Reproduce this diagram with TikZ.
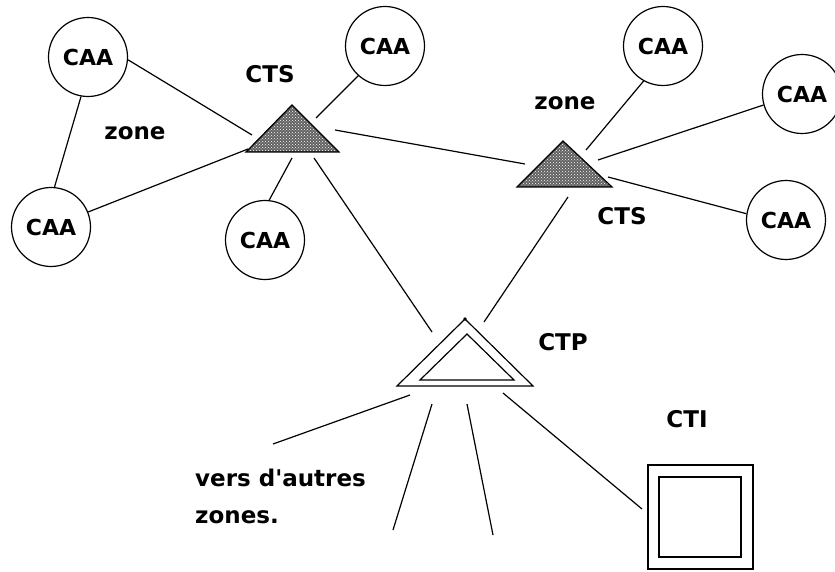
\documentclass[tikz,border=0pt]{standalone}
\usepackage{fontspec}
\setmainfont{DejaVu Sans}[Ligatures=TeXOff]
\usetikzlibrary{patterns}
\begin{document}
\begin{tikzpicture}[x=1pt,y=-1pt,
  ln/.style={line width=1.2pt},
  caa/.style={circle,draw,line width=1.2pt,minimum size=79pt,inner sep=0pt,
     font=\fontsize{22}{26}\selectfont\bfseries},
  lbl/.style={anchor=base,inner sep=0pt,font=\fontsize{23}{27}\selectfont\bfseries},
  lblw/.style={anchor=base west,inner sep=0pt,font=\fontsize{23}{27}\selectfont\bfseries},
  hatch/.style={fill=black!62,draw=black,line width=1.2pt}
]
\useasboundingbox (0,0) rectangle (835,572);

% circles
\node[caa] (caa1) at (88,57) {CAA};
\node[caa] (caa2) at (51,227) {CAA};
\node[caa] (caa3) at (385,46) {CAA};
\node[caa] (caa4) at (265,240) {CAA};
\node[caa] (caa5) at (663,46) {CAA};
\node[caa] (caa6) at (802,94) {CAA};
\node[caa] (caa7) at (786,220) {CAA};

% CTS triangles
\filldraw[hatch] (246,152) -- (292,105) -- (339,152) -- cycle;
\fill[pattern=crosshatch dots,pattern color=white] (248,151) -- (292,107) -- (337,151) -- cycle;
\filldraw[hatch] (517,187) -- (563,141) -- (612,187) -- cycle;
\fill[pattern=crosshatch dots,pattern color=white] (519,186) -- (563,143) -- (610,186) -- cycle;

% CTP
\draw[ln,line join=miter] (397,386) -- (465,319) -- (533,386) -- cycle;
\draw[ln,line join=miter] (420,380) -- (467,334) -- (514,380) -- cycle;
\fill (465,319) circle (1.8);

% CTI
\draw[line width=1.5pt] (648,465) rectangle (753,569);
\draw[line width=1.5pt] (659,477) rectangle (741,557);

% connector end points near triangles
\coordinate (s1w) at (252,135);
\coordinate (s1sw) at (248,149);
\coordinate (s1ne) at (316,118);
\coordinate (s1s) at (292,158);
\coordinate (s1e) at (335,130);
\coordinate (s1se) at (314,158);
\coordinate (s2w) at (525,164);
\coordinate (s2n) at (586,150);
\coordinate (s2e) at (598,160);
\coordinate (s2se) at (608,177);
\coordinate (s2s) at (568,197);
\coordinate (pnw) at (432,332);
\coordinate (pne) at (484,322);
\coordinate (pw) at (410,395);
\coordinate (ps1) at (432,404);
\coordinate (ps2) at (467,404);
\coordinate (pse) at (503,393);
\coordinate (ctiw) at (642,509);
\coordinate (o1) at (273,444);
\coordinate (o2) at (393,530);
\coordinate (o3) at (493,535);

% connectors
\draw[ln] (caa1.-4) -- (s1w);
\draw[ln] (caa1.-100) -- (caa2.85);
\draw[ln] (caa2.22) -- (s1sw);
\draw[ln] (caa3.-132) -- (s1ne);
\draw[ln] (caa4.84) -- (s1s);
\draw[ln] (s1e) -- (s2w);
\draw[ln] (s1se) -- (pnw);
\draw[ln] (s2s) -- (pne);
\draw[ln] (caa5.-119) -- (s2n);
\draw[ln] (caa6.-164) -- (s2e);
\draw[ln] (caa7.171) -- (s2se);
\draw[ln] (pw) -- (o1);
\draw[ln] (ps1) -- (o2);
\draw[ln] (ps2) -- (o3);
\draw[ln] (pse) -- (ctiw);

% labels
\node[lbl] (lcts1) at (270,83) {CTS};
\node[lbl] (lzone1) at (135,140) {zone};
\node[lbl] (lzone2) at (565,110) {zone};
\node[lbl] (lcts2) at (622,225) {CTS};
\node[lbl] (lctp) at (563,350) {CTP};
\node[lbl] (lcti) at (687,427) {CTI};
\node[lblw] (lvers) at (195,486) {vers d'autres};
\node[lblw] (lzones) at (195,523) {zones.};
\end{tikzpicture}
\end{document}
